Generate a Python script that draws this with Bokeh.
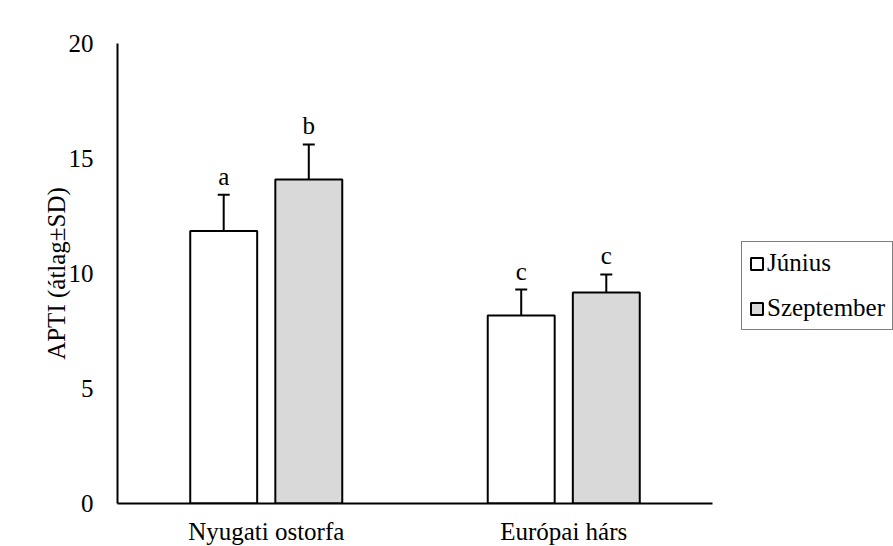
from bokeh.plotting import figure
from bokeh.models import ColumnDataSource, FactorRange, Range1d, Legend, LegendItem, Whisker, TeeHead
from bokeh.transform import dodge
from bokeh.core.properties import value
from bokeh.embed import file_html
from bokeh.resources import INLINE

species = ["Nyugati ostorfa", "Európai hárs"]
june = [11.85, 8.17]
june_sd = [1.57, 1.13]
sept = [14.09, 9.17]
sept_sd = [1.52, 0.79]
june_letters = ["a", "c"]
sept_letters = ["b", "c"]
y_ticks = [0, 5, 10, 15, 20]

FONT = "Liberation Serif"
FS = "25px"

src_j = ColumnDataSource(dict(cat=species, top=june,
                              upper=[v + s for v, s in zip(june, june_sd)],
                              letter=june_letters))
src_s = ColumnDataSource(dict(cat=species, top=sept,
                              upper=[v + s for v, s in zip(sept, sept_sd)],
                              letter=sept_letters))

p = figure(x_range=FactorRange(*species), y_range=Range1d(0, 20),
           frame_width=595, frame_height=460,
           min_border_left=117, min_border_top=43, min_border_bottom=43, min_border_right=0,
           output_backend="svg", toolbar_location=None)
p.outline_line_color = None
p.grid.grid_line_color = None
p.background_fill_color = "white"

off = 0.143
bw = 0.225
rj = p.vbar(x=dodge("cat", -off, range=p.x_range), top="top", width=bw, source=src_j,
            fill_color="white", line_color="black", line_width=2)
rs = p.vbar(x=dodge("cat", off, range=p.x_range), top="top", width=bw, source=src_s,
            fill_color="#d9d9d9", line_color="black", line_width=2)

for src, o in ((src_j, -off), (src_s, off)):
    w = Whisker(source=src, base=dodge("cat", o, range=p.x_range), upper="upper", lower="top",
                dimension="height", line_width=2, line_color="black",
                upper_head=TeeHead(size=12, line_width=2, line_color="black"), lower_head=None)
    p.add_layout(w)
    p.text(x=dodge("cat", o, range=p.x_range), y="upper", text="letter", source=src,
           text_align="center", text_baseline="bottom", y_offset=-5,
           text_font=value(FONT), text_font_size=FS, text_color="black")

p.yaxis.ticker = y_ticks
p.yaxis.axis_label = "APTI (átlag±SD)"
for ax in (p.xaxis[0], p.yaxis[0]):
    ax.major_tick_line_color = None
    ax.minor_tick_line_color = None
    ax.axis_line_color = "black"
    ax.axis_line_width = 2
    ax.major_label_text_font = FONT
    ax.major_label_text_font_size = FS
    ax.major_label_text_color = "black"
    ax.axis_label_text_font = FONT
    ax.axis_label_text_font_size = FS
    ax.axis_label_text_font_style = "normal"
    ax.axis_label_text_color = "black"
p.yaxis.major_label_standoff = 18
p.yaxis.axis_label_standoff = -4
p.xaxis.major_label_standoff = 8

legend = Legend(items=[LegendItem(label="Június", renderers=[rj]),
                       LegendItem(label="Szeptember", renderers=[rs])],
                location=(29, 173), orientation="vertical",
                label_text_font=FONT, label_text_font_size=FS, label_text_color="black",
                glyph_width=15, glyph_height=15, spacing=17, padding=7, margin=0,
                label_standoff=3,
                border_line_color="black", border_line_width=1.5)
p.add_layout(legend, "right")

open("out.html", "w").write(file_html(p, INLINE))
